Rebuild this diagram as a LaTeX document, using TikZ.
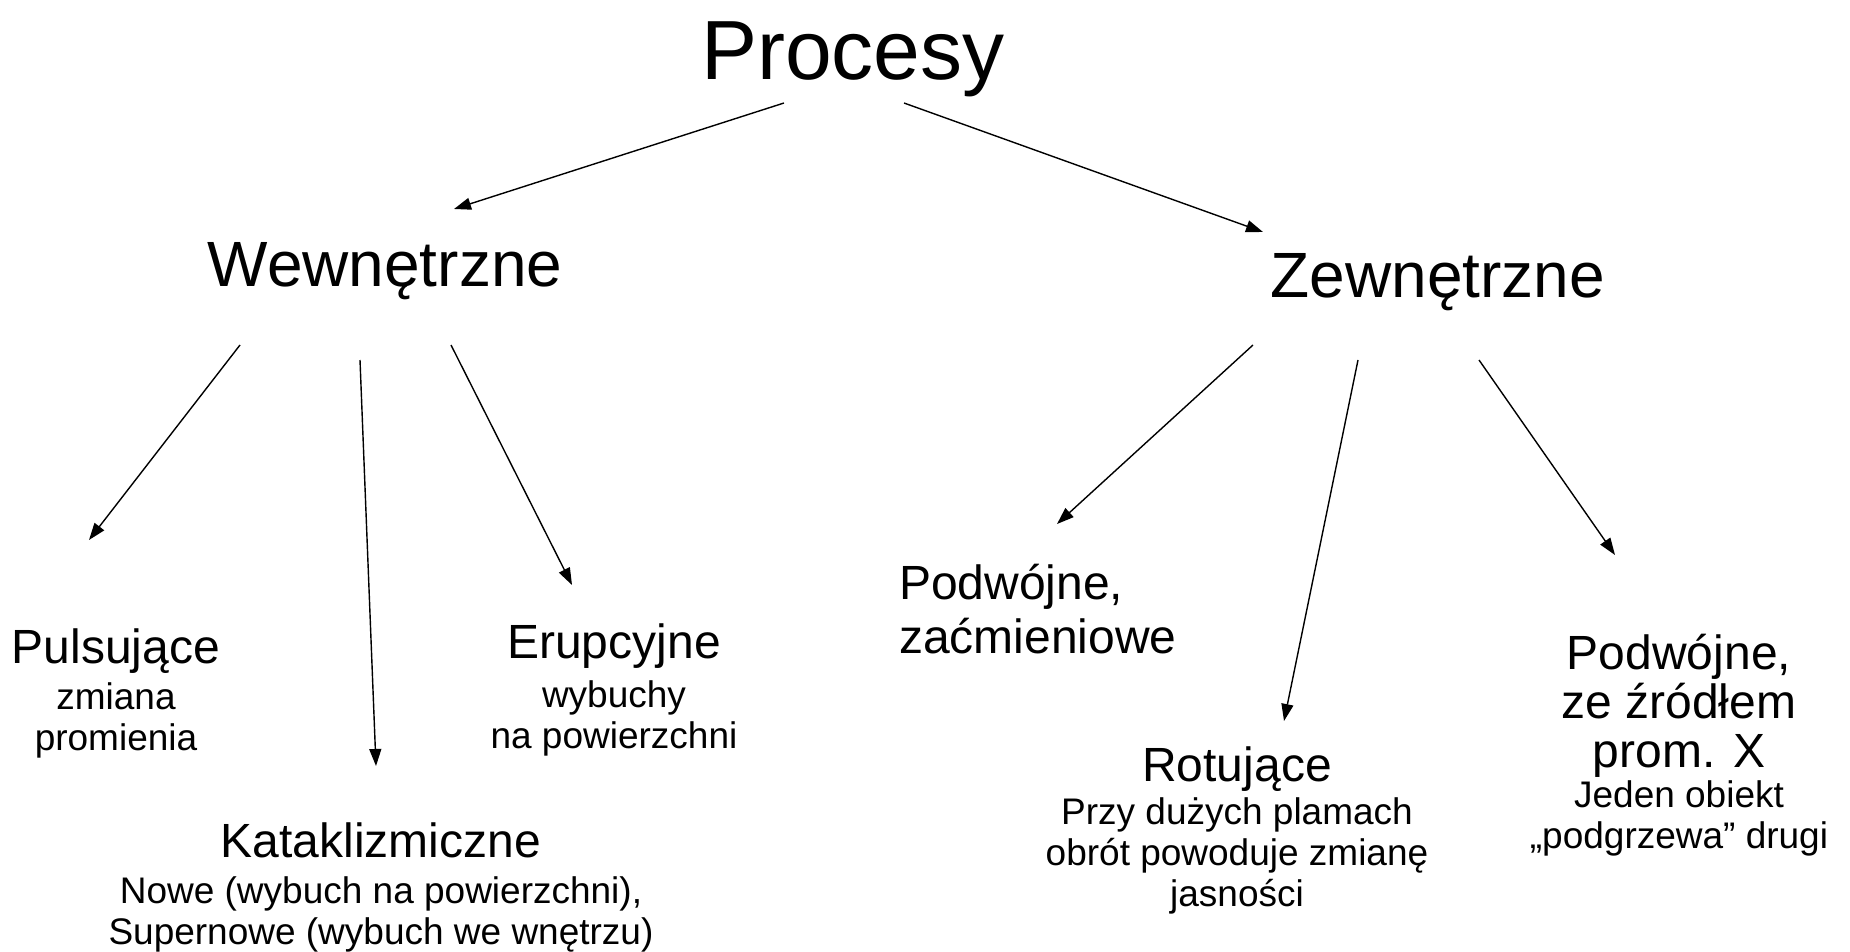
\documentclass[tikz,border=0pt]{standalone}
\usepackage{fontspec}
\setmainfont{Liberation Sans}
\usetikzlibrary{arrows.meta}

\begin{document}
\begin{tikzpicture}[
x=1pt, y=-1pt,
top/.style={inner sep=0, anchor=base, font=\fontsize{84}{96}\selectfont},
big/.style={inner sep=0, anchor=base, font=\fontsize{64}{74}\selectfont},
kind/.style={inner sep=0, anchor=base, align=center, font=\fontsize{48}{49}\selectfont},
note/.style={inner sep=0, anchor=base, align=center, font=\fontsize{37}{41}\selectfont},
arr/.style={-{Triangle[length=17pt,width=12pt]}, line width=1.4pt}
]
\useasboundingbox (0,0) rectangle (1850,952);

% main levels
\node[top] (proc) at (853,80) {Procesy};
\node[big] (wew) at (385,286) {Wewnętrzne};
\node[big] (zew) at (1438,297) {Zewnętrzne};

% inner kinds (multi-line nodes sit on their last line)
\node[kind] (puls) at (116,663) {Pulsujące};
\node[note] (pulsTxt) at (116,750) {zmiana\\promienia};
\node[kind] (erup) at (614,658) {Erupcyjne};
\node[note] (erupTxt) at (614,748) {wybuchy\\na powierzchni};
\node[kind] (kata) at (381,857) {Kataklizmiczne};
\node[note] (kataTxt) at (381,944) {Nowe (wybuch na powierzchni),\\Supernowe (wybuch we wnętrzu)};

% outer kinds
\node[kind, anchor=base west, align=left, font=\fontsize{48}{54}\selectfont] (podz) at (899,653) {Podwójne,\\zaćmieniowe};
\node[kind] (rot) at (1237,781) {Rotujące};
\node[note] (rotTxt) at (1237,906) {Przy dużych plamach\\obrót powoduje zmianę\\jasności};
\node[kind] (podx) at (1679,767) {Podwójne,\\ze źródłem\\prom. X};
\node[note] (podxTxt) at (1679,848) {Jeden obiekt\\„podgrzewa” drugi};

\draw[arr] ([shift={(-69,23)}]proc.base) -- ([shift={(69,-77)}]wew.base);
\draw[arr] ([shift={(51,23)}]proc.base) -- ([shift={(-175,-65)}]zew.base);

\draw[arr] ([shift={(-145,59)}]wew.base) -- ([shift={(-27,-123)}]puls.base);
\draw[arr] ([shift={(-25,74)}]wew.base) -- ([shift={(-5,-91)}]kata.base);
\draw[arr] ([shift={(66,59)}]wew.base) -- ([shift={(-42,-73)}]erup.base);

\draw[arr] ([shift={(-185,48)}]zew.base) -- ([shift={(158,-129)}]podz.base west);
\draw[arr] ([shift={(-80,63)}]zew.base) -- ([shift={(47,-60)}]rot.base);
\draw[arr] ([shift={(41,63)}]zew.base) -- ([shift={(-64,-212)}]podx.base);
\end{tikzpicture}
\end{document}
